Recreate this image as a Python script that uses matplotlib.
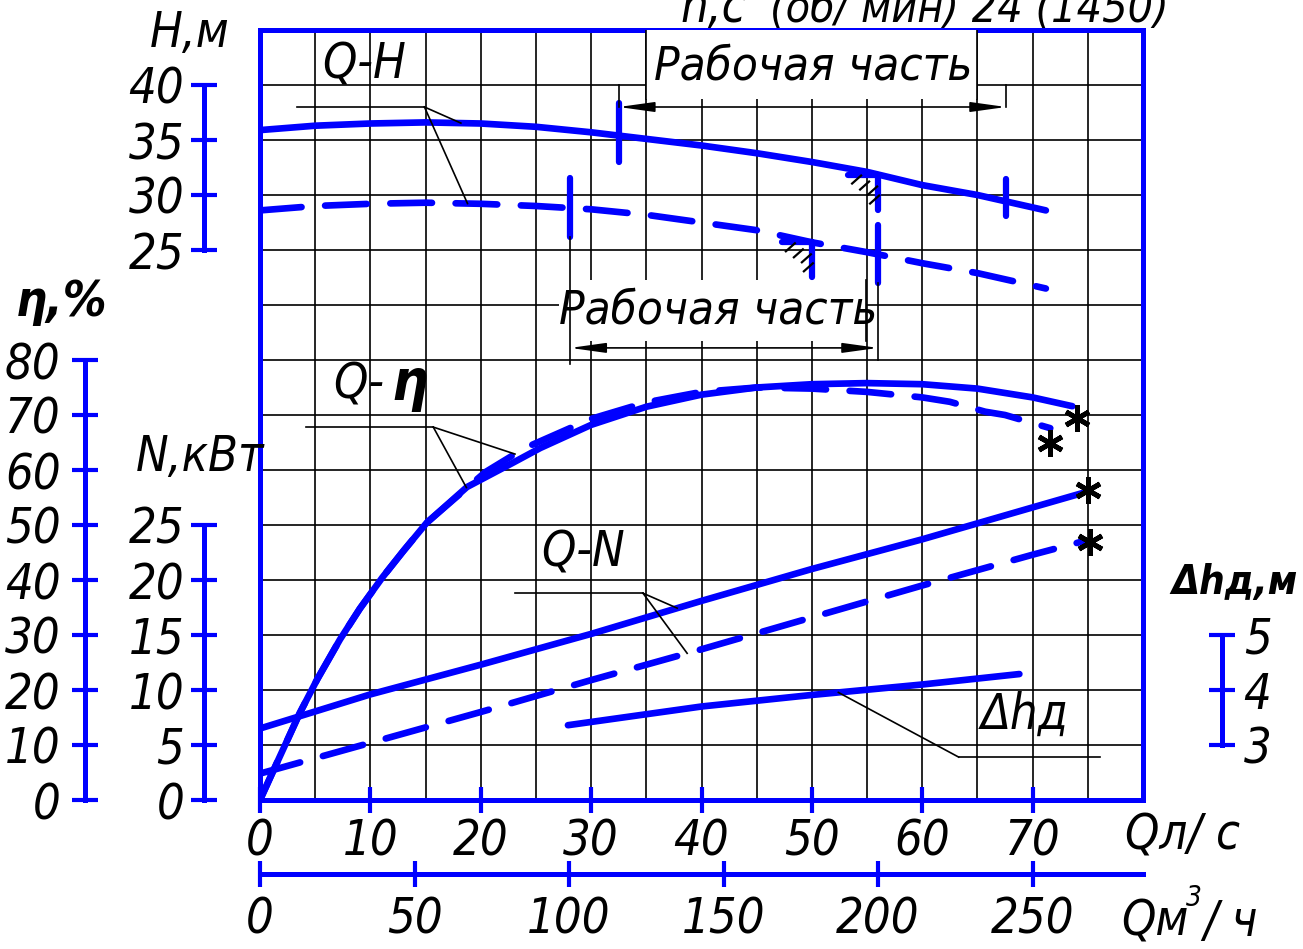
import numpy as np
import matplotlib
matplotlib.use("Agg")
import matplotlib.pyplot as plt
from matplotlib.ticker import MultipleLocator, FixedLocator
from matplotlib.patches import Rectangle

plt.rcParams['font.family'] = ['DejaVu Sans']
plt.rcParams['font.stretch'] = 'condensed'
plt.rcParams['font.style'] = 'italic'
plt.rcParams['lines.scale_dashes'] = False

# ---------------- data ----------------
Q_H = [0, 5, 10, 15, 20, 25, 30, 35, 40, 45, 50, 55, 60, 65, 71.2]
H_solid = [35.9, 36.3, 36.5, 36.6, 36.5, 36.2, 35.7, 35.1, 34.5, 33.8, 33.0, 32.1, 30.9, 30.0, 28.6]
H_dashed = [28.6, 29.0, 29.2, 29.3, 29.2, 29.0, 28.7, 28.2, 27.5, 26.8, 25.7, 24.8, 23.8, 22.9, 21.5]

Q_eta_solid = [0, 1.36, 3.6, 5.2, 7.25, 9.05, 11.1, 13.0, 15.1, 18.75, 22.9, 25.4, 30, 35, 40, 45, 50, 55, 60, 65, 70, 73.6]
eta_solid = [0, 6.0, 15.8, 22.0, 29.2, 34.8, 40.5, 45.3, 50.4, 56.9, 61.3, 64.0, 68.2, 71.5, 73.7, 75.0, 75.6, 75.8, 75.6, 74.8, 73.2, 71.6]
Q_eta_dashed = [0, 1.36, 3.6, 5.2, 7.25, 9.05, 11.1, 13.0, 15.1, 20.4, 24, 30, 35, 40, 45, 50, 55, 60, 62.5, 65.7, 67.5, 71.6]
eta_dashed = [0, 6.0, 15.8, 22.0, 29.2, 34.8, 40.5, 45.3, 50.4, 59.6, 64.0, 69.3, 72.3, 74.2, 75.0, 74.8, 74.2, 73.2, 72.4, 70.6, 70.0, 67.6]

Q_N = [0, 10, 20, 30, 40, 50, 60, 70, 74.5]
N_solid = [6.5, 9.6, 12.3, 15.1, 18.1, 21.0, 23.7, 26.6, 27.9]
N_dashed = [2.4, 5.2, 8.0, 10.9, 13.7, 16.6, 19.5, 22.3, 23.5]

Q_npsh = [27.9, 40, 50, 60, 68.8]
npsh = [3.36, 3.70, 3.91, 4.10, 4.29]

star_eta_Q = [74.0, 71.6]
star_eta = [69.5, 64.9]
star_N_Q = [75.0, 75.2]
star_N = [28.2, 23.5]

work_solid = [32.5, 67.6]     # Q, l/s
work_dashed = [28.1, 56.0]
bep_solid_Q = 56.0
bep_dashed_Q = 50.0

q_ls_ticks = [0, 10, 20, 30, 40, 50, 60, 70]
q_m3h_ticks = [0, 50, 100, 150, 200, 250]
m3h_per_ls = 50 / 14          # as drawn on the chart
H_ticks = [25, 30, 35, 40]
eta_ticks = [0, 10, 20, 30, 40, 50, 60, 70, 80]
N_ticks = [0, 5, 10, 15, 20, 25]
npsh_ticks = [3, 4, 5]

# ---------------- styling ----------------
BLUE = '#0000ff'
W, Hh = 1303, 949
FS = 35
CURVE_LW = 4.8
DASH = (0, (30, 17))
fig = plt.figure(figsize=(W / 100, Hh / 100), dpi=100)

def fx(px):
    return px / W

def fy(py):
    return 1 - py / Hh

ax = fig.add_axes([fx(260), fy(800), 883 / W, 770 / Hh])
ax.set_xlim(0, 80)
ax.set_ylim(0, 14)
ax.set_yticks(range(15))
ax.xaxis.set_major_locator(FixedLocator(q_ls_ticks))
ax.xaxis.set_minor_locator(MultipleLocator(5))
ax.set_axisbelow(True)
ax.grid(which='both', color='black', lw=1.2)
for s in ax.spines.values():
    s.set_color(BLUE)
    s.set_linewidth(3.6)
    s.set_zorder(10)
ax.tick_params(axis='x', which='major', direction='inout', length=19, width=3,
               color=BLUE, labelsize=FS, pad=3)
ax.tick_params(axis='x', which='minor', length=0)
ax.tick_params(axis='y', length=0, labelleft=False)

# secondary Q axis (m3/h)
sec = ax.secondary_xaxis(-74 / 770, functions=(lambda q: np.asarray(q) * m3h_per_ls,
                                               lambda m: np.asarray(m) / m3h_per_ls))
sec.set_xticks(q_m3h_ticks)
sec.tick_params(direction='inout', length=19, width=3, color=BLUE, labelsize=FS, pad=6)
sec.spines['bottom'].set_color(BLUE)
sec.spines['bottom'].set_linewidth(3.6)
for k in ['top', 'left', 'right']:
    sec.spines[k].set_visible(False)


def make_twin(lim, side, outward, bounds, ticks, pad):
    t = ax.twinx()
    t.set_ylim(*lim)
    for k in t.spines:
        t.spines[k].set_visible(False)
    sp = t.spines[side]
    sp.set_visible(True)
    sp.set_position(('outward', outward))
    sp.set_bounds(*bounds)
    sp.set_color(BLUE)
    sp.set_linewidth(3.6)
    if side == 'left':
        t.yaxis.tick_left()
    else:
        t.yaxis.tick_right()
    t.set_yticks(ticks)
    t.tick_params(axis='y', direction='inout', length=19, width=3, color=BLUE,
                  labelsize=FS, pad=pad)
    return t

axH = make_twin((-25, 45), 'left', 40, (25, 40), H_ticks, 5)
axN = make_twin((0, 70), 'left', 40, (0, 25), N_ticks, 5)
axE = make_twin((0, 140), 'left', 126, (0, 80), eta_ticks, 8)
axD = make_twin((2, 16), 'right', 57, (3, 5), npsh_ticks, 6)

# ---------------- curves ----------------
kw = dict(color=BLUE, lw=CURVE_LW, solid_capstyle='round', dash_capstyle='round',
          solid_joinstyle='round')
axH.plot(Q_H, H_solid, **kw)
axH.plot(Q_H, H_dashed, ls=DASH, **kw)
axE.plot(Q_eta_solid, eta_solid, **kw)
axE.plot(Q_eta_dashed, eta_dashed, ls=DASH, **kw)
axN.plot(Q_N, N_solid, **kw)
axN.plot(Q_N, N_dashed, ls=DASH, **kw)
axD.plot(Q_npsh, npsh, **kw)

star_kw = dict(ls='none', marker=(6, 2, 0), ms=19, mew=3.5, color='black', clip_on=False)
axE.plot(star_eta_Q, star_eta, **star_kw)
axN.plot(star_N_Q, star_N, **star_kw)

# ---------------- working range & BEP marks (on H axis) ----------------
QPX = 80 / 883      # Q per pixel
HPX = 70 / 770      # H per pixel
thin = dict(color='black', lw=1.2)

def Hs(q):
    return np.interp(q, Q_H, H_solid)

def Hd(q):
    return np.interp(q, Q_H, H_dashed)

mk = dict(color=BLUE, lw=4.5, solid_capstyle='round')
axH.plot([work_solid[0]] * 2, [Hs(work_solid[0]) + 3.0, Hs(work_solid[0]) - 2.4], **mk)
axH.plot([work_solid[1]] * 2, [Hs(work_solid[1]) + 2.0, Hs(work_solid[1]) - 1.3], **mk)
axH.plot([work_dashed[0]] * 2, [Hd(work_dashed[0]) + 2.7, Hd(work_dashed[0]) - 2.6], **mk)
axH.plot([work_dashed[1]] * 2, [Hd(work_dashed[1]) + 2.7, Hd(work_dashed[1]) - 2.6], **mk)

# top working-range label box
axH.add_patch(Rectangle((35, 38.7), 30, 7, facecolor='white', edgecolor='none', zorder=2))
axH.plot([35, 35], [38.7, 45], zorder=2.1, **thin)
axH.plot([65, 65], [38.7, 45], zorder=2.1, **thin)
axH.text(50.1, 41.6, 'Рабочая часть', ha='center', va='center', fontsize=FS - 1, zorder=3)
for q in work_solid:
    axH.plot([q, q], [40, 38.0], **thin)
axH.annotate('', xy=(work_solid[0], 38.0), xytext=(work_solid[1], 38.0),
             arrowprops=dict(arrowstyle='<|-|>,head_length=1.8,head_width=0.25',
                             mutation_scale=12, color='black', lw=1.2,
                             shrinkA=0, shrinkB=0))

# lower working-range label box
axH.add_patch(Rectangle((27.1, 16.7), 27.8, 5.6, facecolor='white', edgecolor='none', zorder=2))
axH.plot([54.9, 54.9], [16.7, 22.3], zorder=2.1, **thin)
axH.text(41.5, 19.5, 'Рабочая часть', ha='center', va='center', fontsize=FS - 1, zorder=3)
axH.plot([work_dashed[0]] * 2, [Hd(work_dashed[0]) - 2.6, 14.6], zorder=2.2, **thin)
axH.plot([work_dashed[1]] * 2, [Hd(work_dashed[1]) - 2.6, 15.0], zorder=2.2, **thin)
axH.annotate('', xy=(work_dashed[0], 16.1), xytext=(work_dashed[1], 16.1),
             arrowprops=dict(arrowstyle='<|-|>,head_length=1.8,head_width=0.25',
                             mutation_scale=12, color='black', lw=1.2,
                             shrinkA=0, shrinkB=0))

def bep_mark(q, h):
    axH.plot([q - 30 * QPX, q], [h, h], **mk)
    axH.plot([q, q], [h, h - 35 * HPX], **mk)
    for sx, sy in [(-26, 9), (-18, 15), (-10, 20), (-8, 29)]:
        x0, y0 = q + sx * QPX, h - sy * HPX
        axH.plot([x0, x0 + 9 * QPX], [y0, y0 + 8 * HPX], color='black', lw=1.6)

bep_mark(bep_solid_Q, Hs(bep_solid_Q))
bep_mark(bep_dashed_Q, Hd(bep_dashed_Q))

# ---------------- leader lines & curve labels ----------------
# Q-H
ex, ey = 14.9, 38.0
axH.plot([3.35, ex], [ey, ey], **thin)
axH.plot([ex, 18.2], [ey, Hs(18.2)], **thin)
axH.plot([ex, 18.8], [ey, Hd(18.8)], **thin)
axH.text(5.6, 41.9, 'Q-H', ha='left', va='center', fontsize=FS)

# Q-eta
ex, ey = 15.7, 67.8
axE.plot([4.2, ex], [ey, ey], **thin)
axE.plot([ex, 18.7], [ey, np.interp(18.7, Q_eta_solid, eta_solid)], **thin)
axE.plot([ex, 23.1], [ey, np.interp(23.1, Q_eta_dashed, eta_dashed)], **thin)
axE.text(6.6, 75.5, 'Q-', ha='left', va='center', fontsize=FS)
axE.text(11.9, 75.5, 'η', ha='left', va='center', fontsize=FS + 6, fontweight='bold')

# Q-N
ex, ey = 34.7, 18.8
axN.plot([23.1, ex], [ey, ey], **thin)
axN.plot([ex, 37.8], [ey, np.interp(37.8, Q_N, N_solid)], **thin)
axN.plot([ex, 38.7], [ey, np.interp(38.7, Q_N, N_dashed)], **thin)
axN.text(25.5, 22.5, 'Q-N', ha='left', va='center', fontsize=FS)

# NPSH
axD.plot([52.4, 63.3], [np.interp(52.4, Q_npsh, npsh), 2.78], **thin)
axD.plot([63.3, 76.1], [2.78, 2.78], **thin)
axD.text(65.3, 3.55, 'Δhд', ha='left', va='center', fontsize=FS)

# ---------------- axis titles ----------------
fig.text(fx(190), fy(33), 'H,м', ha='center', va='center', fontsize=FS)
fig.text(fx(62), fy(302), 'η,%', ha='center', va='center', fontsize=FS, fontweight='bold')
fig.text(fx(200), fy(457), 'N,кВт', ha='center', va='center', fontsize=FS)
fig.text(fx(1298), fy(583), 'Δhд,м', ha='right', va='center', fontsize=FS - 6, fontweight='bold')
fig.text(fx(1125), fy(835), 'Qл/ с', ha='left', va='center', fontsize=FS)
fig.text(fx(1121), fy(922), 'Qм', ha='left', va='center', fontsize=FS)
fig.text(fx(1186), fy(898), '3', ha='left', va='center', fontsize=20)
fig.text(fx(1203), fy(922), '/ ч', ha='left', va='center', fontsize=FS)
fig.text(fx(680), fy(22), 'n,c', ha='left', va='baseline', fontsize=FS)
fig.text(fx(770), fy(22), '(об/ мин) 24 (1450)', ha='left', va='baseline', fontsize=FS - 3)

fig.savefig('out.png', dpi=100)
